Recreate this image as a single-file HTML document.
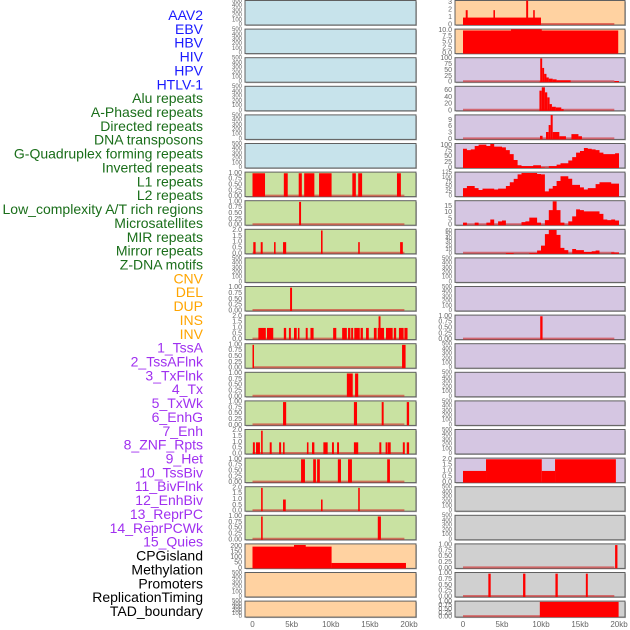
<!DOCTYPE html>
<html><head><meta charset="utf-8"><style>
html,body{margin:0;padding:0;background:#fff;}
svg{display:block;font-family:"Liberation Sans",sans-serif;}
</style></head><body>
<svg id="chart" width="630" height="630" viewBox="0 0 630 630" xmlns="http://www.w3.org/2000/svg">
<g id="labels"></g>
<g id="panels"></g>
</svg>
<script>
// ---- data ----
const trackLabels = ["AAV2","EBV","HBV","HIV","HPV","HTLV-1","Alu repeats","A-Phased repeats","Directed repeats","DNA transposons","G-Quadruplex forming repeats","Inverted repeats","L1 repeats","L2 repeats","Low_complexity A/T rich regions","Microsatellites","MIR repeats","Mirror repeats","Z-DNA motifs","CNV","DEL","DUP","INS","INV","1_TssA","2_TssAFlnk","3_TxFlnk","4_Tx","5_TxWk","6_EnhG","7_Enh","8_ZNF_Rpts","9_Het","10_TssBiv","11_BivFlnk","12_EnhBiv","13_ReprPC","14_ReprPCWk","15_Quies","CPGisland","Methylation","Promoters","ReplicationTiming","TAD_boundary"];
const labelGroups = [6,13,5,15,5];
const labelColors = ["#1a1aff","#1a6e1a","#ffa500","#a030f0","#000000"];
const xTicks = [0,5,10,15,20];
const xTickLabels = ["0","5kb","10kb","15kb","20kb"];
const ticks500 = [0,100,200,300,400,500];
const ticks1 = [0,0.25,0.5,0.75,1];
const ticks2 = [0,0.5,1,1.5,2];
const binSize = 0.5;
// left column segments [startKb,endKb,value]
const segL1 = [[0,1.6,1],[4.0,4.5,1],[5.9,6.3,1],[6.6,7.9,1],[8.5,10.1,1],[12.75,13.2,1],[13.5,14.0,1],[18.45,18.95,1]];
const segL2 = [[5.95,6.2,1]];
const segMicro = [[0.1,0.4,1],[1.05,1.3,1],[2.75,2.95,1],[3.9,4.3,1],[8.75,8.95,2],[13.5,13.7,1],[18.85,19.2,1]];
const segMirror = [[4.8,5.05,1]];
const segDup = [[0.75,1.7,1],[1.85,2.65,1],[4.0,4.3,1],[4.65,4.9,1],[5.3,5.65,1],[5.8,6.0,1],[6.8,7.05,1],[7.4,7.8,1],[10.3,10.7,1],[11.45,12.05,1],[12.2,12.5,1],[12.6,12.85,1],[13.0,13.7,1],[13.8,14.1,1],[14.5,14.85,1],[15.5,15.85,1],[16.0,16.8,1],[16.1,16.35,2],[17.05,17.9,1],[18.05,18.35,1],[18.7,19.3,1],[19.4,19.8,1]];
const segIns = [[0,0.1,1],[19.1,19.55,1]];
const segInv = [[12.05,12.8,1],[13.1,13.5,1]];
const segTssA = [[3.9,4.3,1],[12.95,13.35,1],[16.5,16.75,1],[19.7,20.0,1]];
const segTssAFlnk = [[0.05,0.3,1],[0.45,0.95,1],[1.1,1.3,2],[2.2,2.45,1],[3.4,3.65,1],[3.9,4.1,1],[6.95,7.15,1],[7.6,7.9,1],[9.05,9.6,1],[10.15,10.4,1],[10.8,11.05,1],[12.95,13.5,1],[16.2,16.45,1],[17.0,17.25,1],[17.3,17.65,1],[19.2,19.45,1],[19.7,20.0,1]];
const segTxFlnk = [[6.2,6.7,1],[7.75,8.1,1],[8.25,8.6,1],[10.9,11.3,1],[12.2,12.7,1],[17.2,17.55,1]];
const segTx = [[1.1,1.3,2],[3.9,4.25,1],[8.75,8.95,1],[13.5,13.7,2]];
const segTxWk = [[1.1,1.3,1],[16.0,16.4,1]];
const segCpg = [[0,10.1,200],[5.3,6.8,215],[10.1,19.6,50]];
// right column
const segAav = [[0,10.0,1],[0.35,0.6,2],[3.9,4.1,2],[8.1,8.35,3.3],[9.0,9.2,2]];
const segEbv = [[0,19.9,10],[6.15,10.1,10.5]];
const segHiv = [[9.8,9.9,3],[9.9,10.15,100],[10.15,10.4,60],[10.4,10.7,35],[10.7,11,20],[11,11.5,15],[11.5,12,12],[12,13.8,8],[19.4,20,5]];
const segHpv = [[9.8,10.1,60],[10.1,10.5,70],[10.5,10.8,55],[10.8,11.1,40],[11.1,11.4,20],[11.4,11.9,12],[11.9,12.6,10],[12.6,12.9,5]];
const segAlu = [[9.87,10.2,1.7],[10.64,10.98,3.5],[10.98,11.24,6.8],[11.24,11.5,11.5],[11.5,12.35,3.5],[12.35,13.2,1.5],[13.9,14.8,2.5],[14.8,15.25,1.5]];
const binsGquad = [85,79,82,97,103,103,97,106,94,94,91,79,61,35,12,8,8,8,12,12,3,0,8,8,15,21,21,33,48,68,75,88,85,82,79,68,61,61,61,65];
const binsLine1 = [45,56,56,45,35,42,42,42,38,42,42,56,76,94,118,125,125,125,125,120,118,28,42,56,83,108,108,95,62,62,49,38,45,45,66,76,76,76,69,69];
const binsLowc = [2,0,0,2,0,0,2,4.5,0,3,3.7,0,0,0,0,2.4,3,6,6,2,0,4,12,19,12,2,0,3,7,12.6,12,11,11,11,11,9,4.5,4,4.5,3.7];
const binsMir = [0,0,0,0,0,0,0,0,0,0,0,2,2,0,0,0,0,2,2,9,22,53,64,64,51,16,10,0,13,10,10,5,5,7,9,0,0,0,4,4];
const segIns2 = [[9.9,10.2,1]];
const segState = [[0,2.95,1],[2.95,10.1,2],[10.1,11.8,1],[11.8,19.6,2]];
const segProm = [[19.5,19.8,1]];
const segRepl = [[3.25,3.55,1],[7.7,8.0,1],[11.85,12.15,1],[15.75,16.0,1]];
const segTad = [[9.85,19.95,1]];

// ---- layout config (not data) ----
const BLUE="#c7e3eb", GREEN="#c9e2a2", ORANGE="#ffd2a1", PURPLE="#d5c6e2", GRAY="#d0d0d0";
const leftPanels = [
 {bg:BLUE,t:ticks500,m:520},{bg:BLUE,t:ticks500,m:520},{bg:BLUE,t:ticks500,m:520},{bg:BLUE,t:ticks500,m:520},{bg:BLUE,t:ticks500,m:520},{bg:BLUE,t:ticks500,m:520},
 {bg:GREEN,t:ticks1,m:1.05,s:segL1},{bg:GREEN,t:ticks1,m:1.05,s:segL2},{bg:GREEN,t:ticks2,m:2.1,s:segMicro},{bg:GREEN,t:ticks500,m:520},
 {bg:GREEN,t:ticks1,m:1.05,s:segMirror},{bg:GREEN,t:ticks2,m:2.1,s:segDup},{bg:GREEN,t:ticks1,m:1.05,s:segIns},{bg:GREEN,t:ticks1,m:1.05,s:segInv},
 {bg:GREEN,t:ticks1,m:1.05,s:segTssA},{bg:GREEN,t:ticks2,m:2.1,s:segTssAFlnk},{bg:GREEN,t:ticks1,m:1.05,s:segTxFlnk},{bg:GREEN,t:ticks2,m:2.1,s:segTx},
 {bg:GREEN,t:ticks1,m:1.05,s:segTxWk},{bg:ORANGE,t:[0,50,100,150,200],m:225,s:segCpg},{bg:ORANGE,t:ticks500,m:520},{bg:ORANGE,t:ticks500,m:520}
];
const rightPanels = [
 {bg:ORANGE,t:[0,1,2,3],m:3.3,s:segAav},{bg:ORANGE,t:[0,2.5,5,7.5,10],m:10.6,s:segEbv},
 {bg:PURPLE,t:[0,25,50,75,100],m:103,s:segHiv},{bg:PURPLE,t:[0,20,40,60],m:73,s:segHpv},{bg:PURPLE,t:[0,3,6,9],m:11.6,s:segAlu},
 {bg:PURPLE,t:[0,25,50,75,100],m:108,b:binsGquad},{bg:PURPLE,t:[0,25,50,75,100,125],m:130,b:binsLine1},
 {bg:PURPLE,t:[0,5,10,15],m:19.5,b:binsLowc},{bg:PURPLE,t:[0,10,20,30,40,50,60],m:66,b:binsMir},
 {bg:PURPLE,t:ticks500,m:520},{bg:PURPLE,t:ticks500,m:520},{bg:PURPLE,t:ticks1,m:1.05,s:segIns2},
 {bg:PURPLE,t:ticks500,m:520},{bg:PURPLE,t:ticks500,m:520},{bg:PURPLE,t:ticks500,m:520},{bg:PURPLE,t:ticks500,m:520},
 {bg:PURPLE,t:ticks2,m:2.1,s:segState},{bg:GRAY,t:ticks500,m:520},{bg:GRAY,t:ticks500,m:520},
 {bg:GRAY,t:ticks1,m:1.05,s:segProm},{bg:GRAY,t:ticks1,m:1.05,s:segRepl},{bg:GRAY,t:ticks1,m:1.05,s:segTad}
];
const NS="http://www.w3.org/2000/svg";
function mk(tag,attrs,parent){const e=document.createElementNS(NS,tag);for(const k in attrs)e.setAttribute(k,attrs[k]);parent.appendChild(e);return e;}
function fmt(v,t){const mx=Math.max(...t);if(t.includes(0.25))return v.toFixed(2);if(t.includes(0.5)||t.includes(2.5))return v.toFixed(1);return String(v);}

// labels
const lg=document.getElementById('labels');
let idx=0;
labelGroups.forEach((n,gi)=>{for(let k=0;k<n;k++){const i=idx++;
 const t=mk('text',{x:203,y:15+i*13.86,'text-anchor':'end','dominant-baseline':'central','font-size':'14',fill:labelColors[gi]},lg);
 
 
 t.textContent=trackLabels[i];}});

const pg=document.getElementById('panels');
function drawColumn(panels,left,right,x0,pxPerKb,col){
 const xs=kb=>x0+kb*pxPerKb;
 panels.forEach((p,i)=>{
  const top=0.5+i*28.6, h=(i===21)?16:24.5, bot=top+h;
  const g=mk('g',{},pg);
  
  
  mk('rect',{x:left+1,y:top+1,width:right-left,height:h,fill:'#b8b8b8'},g);
  mk('rect',{x:left,y:top,width:right-left,height:h,fill:p.bg,stroke:'#606060','stroke-width':1},g);
  const ys=v=>bot-(v/p.m)*h;
  // y ticks
  p.t.forEach(v=>{const tt=mk('text',{x:left-3,y:ys(v),'text-anchor':'end','dominant-baseline':'central','font-size':(p.t.length>5?'6':'7'),fill:'#666'},g);
   
   
   tt.textContent=fmt(v,p.t);});
  if(p.s||p.b){
   const bl=mk('line',{x1:xs(0),x2:xs(19.4),y1:bot-1,y2:bot-1,stroke:'rgba(210,40,40,0.6)','stroke-width':2},g);
   
   
  }
  if(p.s){p.s.forEach(s=>{const r=mk('rect',{x:xs(s[0]),y:ys(s[2]),width:Math.max(1.5,xs(s[1])-xs(s[0])),height:bot-ys(s[2]),fill:'#ff0000'},g);
   
   });}
  if(p.b){let d='M'+xs(0)+','+bot;p.b.forEach((v,j)=>{d+=' L'+xs(j*binSize)+','+ys(v)+' L'+xs((j+1)*binSize)+','+ys(v);});d+=' L'+xs(p.b.length*binSize)+','+bot+' Z';
   const pa=mk('path',{d:d,fill:'#ff0000'},g);
   
   }
 });
 xTicks.forEach((v,j)=>{const t=mk('text',{x:xs(v),y:627,'text-anchor':'middle','font-size':'8',fill:'#666'},pg);
  
  
  t.textContent=xTickLabels[j];});
}
drawColumn(leftPanels,245,416,252.5,7.83,'left');
drawColumn(rightPanels,455,625,463,7.8,'right');
</script>
</body></html>
